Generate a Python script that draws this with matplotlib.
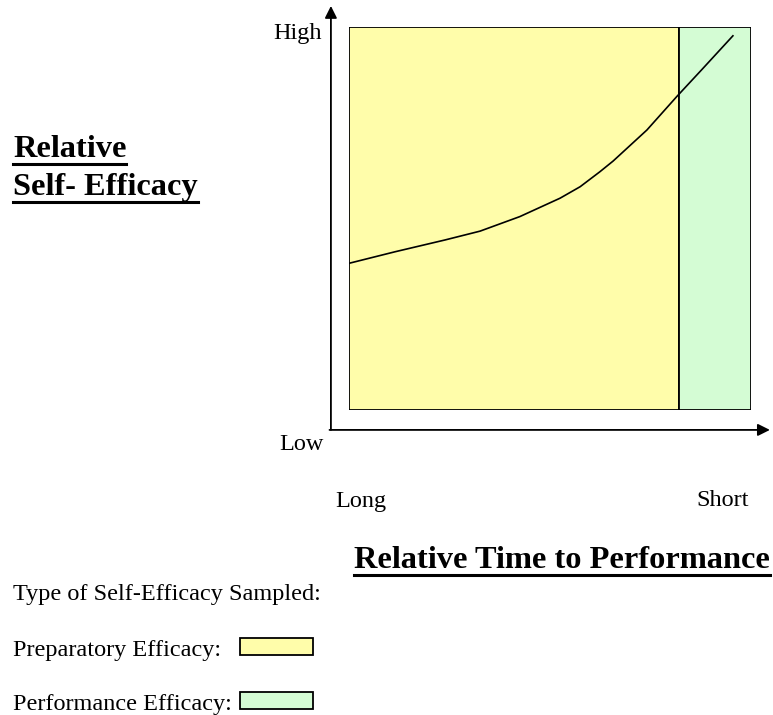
import matplotlib
matplotlib.use('Agg')
import matplotlib.pyplot as plt
from matplotlib.patches import Rectangle

plt.rcParams['font.family'] = ['Liberation Serif', 'DejaVu Serif']

# Conceptual data (box spans 0..100 in both directions)
time_pts = [0, 11.4, 23.9, 32.6, 42.5, 52.5, 57.5, 62.4, 65.7, 74.1, 81.5, 87.7, 95.5]
efficacy_pts = [38.3, 41.3, 44.4, 46.7, 50.5, 55.3, 58.3, 62.2, 65.0, 73.1, 81.8, 88.8, 97.7]
phase_names = ['Preparatory Efficacy:', 'Performance Efficacy:']
phase_start = [0, 82]
phase_end = [82, 100]
phase_colors = ['#FFFDAA', '#D4FCD4']

W, H = 773, 715
fig = plt.figure(figsize=(W / 100, H / 100), dpi=100)


def fx(px):
    return px / W


def fy(py):
    return 1 - py / H


# main axes placed over the shaded box
ax = fig.add_axes([fx(349), fy(410), fx(751) - fx(349), fy(27) - fy(410)])
ax.set_xlim(0, 100)
ax.set_ylim(0, 100)
ax.axis('off')

for s, e, c in zip(phase_start, phase_end, phase_colors):
    ax.add_patch(Rectangle((s, 0), e - s, 100, facecolor=c, edgecolor='black', lw=1.3))

ax.plot(time_pts, efficacy_pts, color='black', lw=1.2, solid_joinstyle='round')

# axis arrows
ax.annotate('', xy=(-4.5, 105.5), xytext=(-4.5, -5.2), annotation_clip=False,
            arrowprops=dict(arrowstyle='-|>', mutation_scale=18, lw=1.3, color='black',
                            shrinkA=0, shrinkB=0))
ax.annotate('', xy=(104.7, -5.2), xytext=(-4.85, -5.2), annotation_clip=False,
            arrowprops=dict(arrowstyle='-|>', mutation_scale=18, lw=1.3, color='black',
                            shrinkA=0, shrinkB=0))

fs = 17.5
fig.text(fx(322), fy(34), 'High', ha='right', va='center', fontsize=fs)
fig.text(fx(324), fy(445), 'Low', ha='right', va='center', fontsize=fs)
fig.text(fx(335), fy(501), 'Long', ha='left', va='center', fontsize=fs)
fig.text(fx(749), fy(501), 'Short', ha='right', va='center', fontsize=fs)

bold_texts = [
    fig.text(fx(13), fy(157), 'Relative', ha='left', va='baseline', fontsize=23.3, fontweight='bold'),
    fig.text(fx(13), fy(195), 'Self- Efficacy', ha='left', va='baseline', fontsize=23.3, fontweight='bold'),
    fig.text(fx(770), fy(568), 'Relative Time to Performance', ha='right', va='baseline',
             fontsize=23.3, fontweight='bold'),
]

fig.text(fx(13), fy(600), 'Type of Self-Efficacy Sampled:', ha='left', va='baseline', fontsize=fs)
legend_y = [656, 710]
for name, c, ly in zip(phase_names, phase_colors, legend_y):
    fig.text(fx(13), fy(ly), name, ha='left', va='baseline', fontsize=fs)
    fig.add_artist(Rectangle((fx(240), fy(ly - 1)), fx(313) - fx(240), fy(ly - 18) - fy(ly - 1),
                             transform=fig.transFigure, facecolor=c, edgecolor='black', lw=1.3))

# underline the bold headings
fig.canvas.draw()
renderer = fig.canvas.get_renderer()
for t in bold_texts:
    bb = t.get_window_extent(renderer)
    x0, x1 = bb.x0 / W, bb.x1 / W
    _, by = t.get_position()
    y = by - 6.5 / H
    fig.add_artist(plt.Line2D([x0, x1], [y, y], transform=fig.transFigure, color='black', lw=2.2))

plt.savefig('out.png', dpi=100)
